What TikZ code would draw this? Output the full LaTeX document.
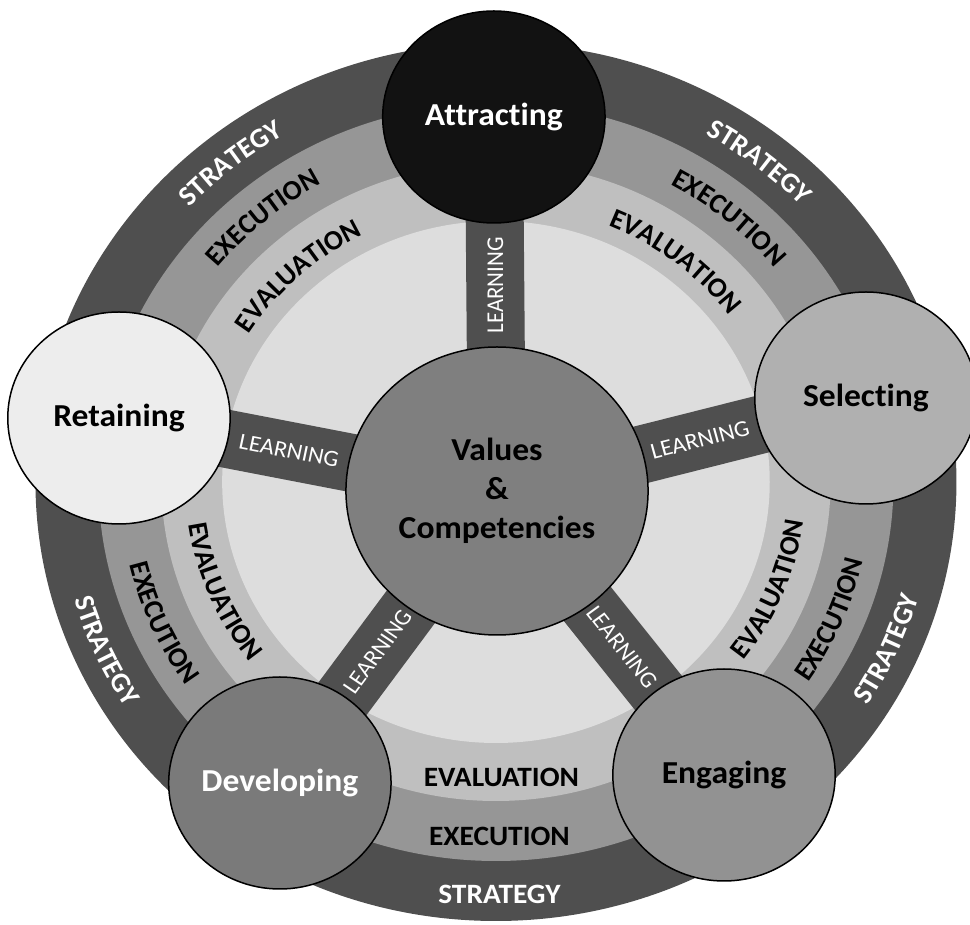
\documentclass[tikz,border=0pt]{standalone}
\usepackage{fontspec}
\setmainfont{Carlito}[Ligatures=NoCommon]
\usetikzlibrary{decorations.text}
\pgfdeclarelayer{bg}
\pgfsetlayers{bg,main}
\definecolor{cstrat}{HTML}{4F4F4F}
\definecolor{cexec}{HTML}{969696}
\definecolor{ceval}{HTML}{BFBFBF}
\definecolor{cinner}{HTML}{DDDDDD}
\definecolor{cbar}{HTML}{4F4F4F}
\definecolor{chub}{HTML}{7F7F7F}
\definecolor{cattr}{HTML}{121212}
\definecolor{csel}{HTML}{B0B0B0}
\definecolor{ceng}{HTML}{929292}
\definecolor{cdev}{HTML}{7A7A7A}
\definecolor{cret}{HTML}{EDEDED}
\newcommand\rfont{\bfseries\fontsize{28}{30}\selectfont}
\newcommand\cwtext[4]{%
  \path[decorate,decoration={text along path,text align=center,text color=#3,text={|\rfont|#4}}]
    ({#1+40}:#2) arc[start angle={#1+40},end angle={#1-40},radius=#2];}
\newcommand\ccwtext[4]{%
  \path[decorate,decoration={text along path,text align=center,text color=#3,text={|\rfont|#4}}]
    ({#1-40}:#2) arc[start angle={#1-40},end angle={#1+40},radius=#2];}
\tikzset{
  stage/.style={circle, draw=black, line width=1.5pt, minimum size=212pt, inner sep=0pt,
    font=\bfseries\fontsize{32}{39}\selectfont, align=center},
  hub/.style={stage, minimum size=288pt, fill=chub},
  bar/.style={draw=cbar, line width=58pt},
  learn/.style={text=white, inner sep=0pt, font=\fontsize{23}{26}\selectfont},
  flat/.style={inner sep=0pt, anchor=base, font=\rfont},
}
\begin{document}
\begin{tikzpicture}[x=1pt,y=1pt,xscale=1.049,transform shape]
\useasboundingbox (-472.8,-443) rectangle (451.9,482);
\begin{pgfonlayer}{bg}
  \fill[cstrat] (0,0) circle[radius=439];
  \fill[cexec] (0,0) circle[radius=379];
  \fill[ceval] (0,0) circle[radius=319];
  \fill[cinner] (0,0) circle[radius=261];
  % top-left
  \cwtext{129}{401}{white}{STRATEGY}
  \cwtext{130.6}{341}{black}{EXECUTION}
  \cwtext{133}{278}{black}{EVALUATION}
  % top-right
  \cwtext{51.3}{401}{white}{STRATEGY}
  \cwtext{49.4}{341}{black}{EXECUTION}
  \cwtext{51.6}{278}{black}{EVALUATION}
  % right
  \ccwtext{-23.7}{419}{white}{STRATEGY}
  \ccwtext{-23}{359}{black}{EXECUTION}
  \ccwtext{-22}{296}{black}{EVALUATION}
  % left
  \ccwtext{204}{419}{white}{STRATEGY}
  \ccwtext{203.6}{359}{black}{EXECUTION}
  \ccwtext{202.5}{296}{black}{EVALUATION}
  % bottom (straight)
  \node[flat, text=white] (bstrat) at (3.3,-422) {STRATEGY};
  \node[flat] (bexec) at (3.3,-364) {EXECUTION};
  \node[flat] (beval) at (5.2,-305) {EVALUATION};
\end{pgfonlayer}
\node[hub] (vc) at (1,-9) {Values\\\&\\Competencies};
\node[stage, fill=cattr, text=white] (att) at (-2,365) {Attracting};
\node[stage, fill=csel] (sel) at (352.7,84) {Selecting};
\node[stage, fill=ceng] (eng) at (217.4,-293) {Engaging};
\node[stage, fill=cdev, text=white] (dev) at (-206,-301) {Developing};
\node[stage, fill=cret] (ret) at (-359.4,64) {Retaining};
\begin{pgfonlayer}{bg}
  \draw[bar] (vc.center) -- (att.center);
  \draw[bar] (vc.center) -- (sel.center);
  \draw[bar] (vc.center) -- (eng.center);
  \draw[bar] (vc.center) -- (dev.center);
  \draw[bar] (vc.center) -- (ret.center);
\end{pgfonlayer}
\path (vc.center) -- node[learn, pos=0.55, rotate=90] (l1) {LEARNING} (att.center);
\path (vc.center) -- node[learn, pos=0.55, rotate=14.8] (l2) {LEARNING} (sel.center);
\path (vc.center) -- node[learn, pos=0.55, rotate=-52.7] (l3) {LEARNING} (eng.center);
\path (vc.center) -- node[learn, pos=0.55, rotate=54.7] (l4) {LEARNING} (dev.center);
\path (vc.center) -- node[learn, pos=0.55, rotate=-11.4] (l5) {LEARNING} (ret.center);
\end{tikzpicture}
\end{document}
